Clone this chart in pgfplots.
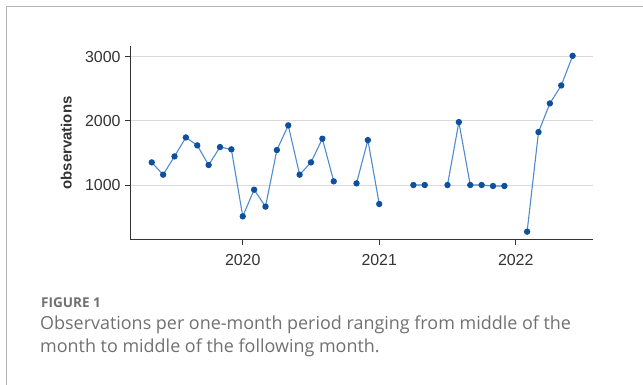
\documentclass[border=0pt]{standalone}
\usepackage{fontspec}
\setmainfont{Liberation Sans}
\newfontfamily\capfont{Open Sans}
\usepackage{pgfplots}
\pgfplotsset{compat=1.18}
\definecolor{axisgray}{HTML}{333333}
\definecolor{gridgray}{HTML}{DADADA}
\definecolor{labelgray}{HTML}{333333}
\definecolor{framegray}{HTML}{B4B4B4}
\definecolor{capgray}{HTML}{707070}
\definecolor{markblue}{HTML}{0E4F9E}
\definecolor{lineblue}{HTML}{4F8CCB}
\begin{document}
\begin{tikzpicture}
\draw[framegray, line width=1.5bp] (643bp,378.5bp) -- (6.5bp,378.5bp) -- (6.5bp,0bp);
\begin{axis}[
  at={(130bp,145bp)}, anchor=south west,
  scale only axis, width=463bp, height=194bp,
  xmin=2019.174, xmax=2022.566, ymin=143, ymax=3167,
  axis x line*=bottom, axis y line*=left,
  axis line style={draw=axisgray, line width=1bp},
  xtick={2020,2021,2022},
  ytick={1000,2000,3000},
  tick align=outside, major tick length=5bp,
  tick style={draw=axisgray, line width=0.8bp},
  ymajorgrids, grid style={draw=gridgray, line width=0.8bp},
  tick label style={font=\fontsize{16}{19}\selectfont, text=labelgray},
  xticklabel style={yshift=-6bp},
  yticklabel style={xshift=-1bp},
  /pgf/number format/assume math mode=true,
  /pgf/number format/1000 sep={},
  unbounded coords=jump,
]
\addplot[color=lineblue, line width=1.1bp, mark=*, mark size=2.6bp,
  mark options={fill=markblue, draw=markblue}] table[x=t, y=n] {
t n
2019.3333 1353
2019.4167 1161
2019.5000 1446
2019.5833 1742
2019.6667 1618
2019.7500 1312
2019.8333 1592
2019.9167 1556
2020.0000 512
2020.0833 927
2020.1667 663
2020.2500 1545
2020.3333 1930
2020.4167 1161
2020.5000 1353
2020.5833 1722
2020.6667 1057
2020.7500 nan
2020.8333 1026
2020.9167 1700
2021.0000 704
2021.0833 nan
2021.1667 nan
2021.2500 1000
2021.3333 1000
2021.4167 nan
2021.5000 1000
2021.5833 1981
2021.6667 1000
2021.7500 1000
2021.8333 985
2021.9167 985
2022.0000 nan
2022.0833 273
2022.1667 1825
2022.2500 2272
2022.3333 2552
2022.4167 3014
};
\end{axis}
\node[rotate=90, anchor=base, inner sep=0pt, text=labelgray,
  font=\fontsize{15}{18}\selectfont\bfseries] at (71.7bp,242bp) {observations};
\node[anchor=base west, inner sep=0pt, text=capgray,
  font=\capfont\fontsize{13.6}{15}\selectfont\bfseries] at (41bp,77.7bp) {FIGURE 1};
\node[anchor=base west, inner sep=0pt, text=capgray,
  font=\capfont\fontsize{18}{20}\selectfont] at (40bp,55.5bp) {Observations per one-month period ranging from middle of the};
\node[anchor=base west, inner sep=0pt, text=capgray,
  font=\capfont\fontsize{18}{20}\selectfont] at (40bp,32.5bp) {month to middle of the following month.};
\pgfresetboundingbox
\useasboundingbox (0bp,0bp) rectangle (643bp,385bp);
\end{tikzpicture}
\end{document}
